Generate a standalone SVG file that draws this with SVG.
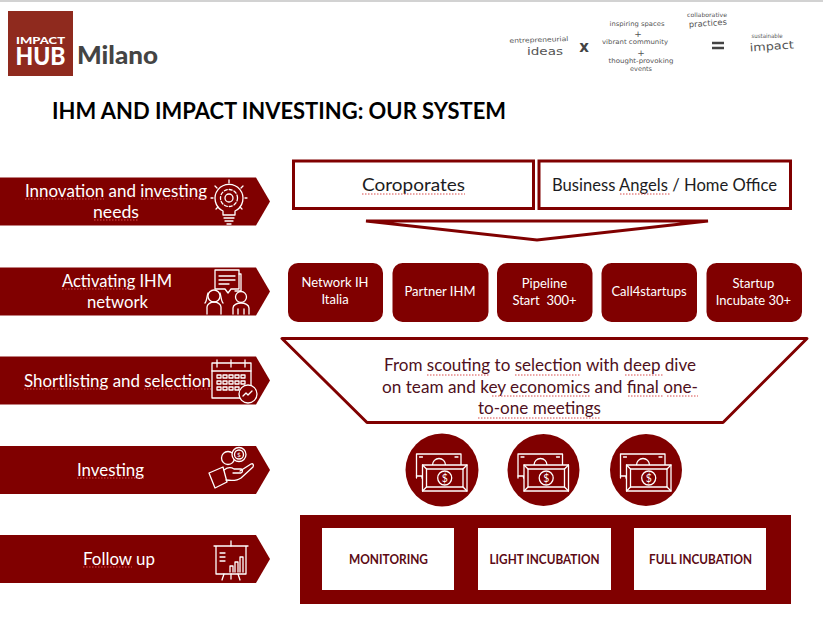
<svg xmlns="http://www.w3.org/2000/svg" width="823" height="620" viewBox="0 0 823 620">
<style>
text{font-family:Lato,"Liberation Sans",sans-serif;text-anchor:middle}
.red{fill:#800000}
.lab{fill:#fff;font-size:17px}
.nd{fill:#fff;font-size:13px}
.blk{fill:#1c1c22;font-size:17px}
.fn{fill:#4f1020;font-size:17px}
.bold{fill:#5c0a14;font-size:13px;font-weight:700}
.hand{font-family:"DejaVu Sans",sans-serif;fill:#555}
.sq{stroke:#d84a4a;stroke-width:1;stroke-dasharray:1.5 1.5;fill:none}
.ic{fill:none;stroke:#fff;stroke-width:1.3;stroke-linejoin:round;stroke-linecap:round}
.cur{fill:#fff;stroke:none}
.ol{fill:#fff;stroke:#800000;stroke-width:3}
</style>
<defs>
<path id="banner" d="M0 0H256L270 24L256 48H0Z"/>
<g id="money">
<g class="ic" stroke="#f3dcdc">
<path d="M-25.500 5V-19H19V-8"/>
<path d="M-25.500 3H-20V5M-22.500 -16H-19.500M16 -16H13"/>
<path d="M-9.500 -8a6.500 6.500 0 0 1 13 0"/>
<rect x="-19.500" y="-8" width="44.500" height="26" fill="#800000"/>
<path d="M-15.500 -4H21V14H-15.500Z"/>
<path d="M-19.500 -8l4 4M25 -8l-4 4M-19.500 18l4-4M25 18l-4-4"/>
<circle cx="2.700" cy="5" r="7"/>
</g>
<text x="2.700" y="9" style="font-size:10.500px;fill:#fff">$</text>
</g>
</defs>
<rect width="823" height="620" fill="#fff"/>
<rect width="823" height="2" fill="#d2d2d2"/>

<g id="logo">
<rect x="8" y="11" width="65" height="65" fill="#8f2a1e"/>
<text x="40.500" y="44" fill="#fff" font-size="9.500" font-weight="900" textLength="49" lengthAdjust="spacingAndGlyphs">IMPACT</text>
<text x="40.500" y="65" fill="#fff" font-size="24" font-weight="900" textLength="50" lengthAdjust="spacingAndGlyphs">HUB</text>
<text x="117.500" y="64" fill="#444" font-size="24" font-weight="900" textLength="81" lengthAdjust="spacingAndGlyphs">Milano</text>
</g>

<g id="tagline">
<text class="hand" x="539" y="42" font-size="6.500" textLength="59" lengthAdjust="spacingAndGlyphs" transform="rotate(-2 539 42)">entrepreneurial</text>
<text class="hand" x="545" y="55" font-size="11" textLength="36" lengthAdjust="spacingAndGlyphs">ideas</text>
<text class="hand" x="584" y="52" font-size="15" font-weight="700" style="fill:#444">x</text>
<text class="hand" x="637" y="26" font-size="6.500" textLength="55" lengthAdjust="spacingAndGlyphs">inspiring spaces</text>
<text class="hand" x="638" y="37" font-size="9">+</text>
<text class="hand" x="635" y="44" font-size="6.500" textLength="66" lengthAdjust="spacingAndGlyphs">vibrant community</text>
<text class="hand" x="641" y="56" font-size="9">+</text>
<text class="hand" x="641" y="63" font-size="6.500" textLength="65" lengthAdjust="spacingAndGlyphs">thought-provoking</text>
<text class="hand" x="641" y="71" font-size="6.500" textLength="22" lengthAdjust="spacingAndGlyphs">events</text>
<text class="hand" x="707" y="17" font-size="6" textLength="40" lengthAdjust="spacingAndGlyphs">collaborative</text>
<text class="hand" x="708" y="26" font-size="8" textLength="38" lengthAdjust="spacingAndGlyphs" transform="rotate(-4 708 26)">practices</text>
<path d="M712 43H724M712 48H724" stroke="#444" stroke-width="2.500" fill="none"/>
<text class="hand" x="767" y="38" font-size="6" textLength="31" lengthAdjust="spacingAndGlyphs">sustainable</text>
<text class="hand" x="772" y="50" font-size="11" textLength="44" lengthAdjust="spacingAndGlyphs" transform="rotate(-4 772 50)">impact</text>
</g>

<text id="title" x="279" y="119" fill="#000" font-size="22.500" font-weight="700" textLength="454" lengthAdjust="spacingAndGlyphs">IHM AND IMPACT INVESTING: OUR SYSTEM</text>

<g id="step-innovation">
<use href="#banner" class="red" y="177.500"/>
<text class="lab" x="116" y="197" textLength="182" lengthAdjust="spacingAndGlyphs">Innovation and investing</text>
<text class="lab" x="116" y="218" textLength="46" lengthAdjust="spacingAndGlyphs">needs</text>
<path class="sq" d="M25 199H104M141 199H207M94 220H139"/>
<g class="ic">
<path d="M223 211a14 14 0 1 1 12 0v4h-12Z"/><path d="M224 218h10M225 221h8M227 224h4"/>
<circle cx="229" cy="198" r="4"/><circle cx="229" cy="198" r="8.500" stroke-dasharray="3 2"/>
<path d="M229 180v3M215 186l2 2M243 186l-2 2M211 198h2M245 198h2M216 209l2-2M242 209l-2-2"/>
</g>
</g>

<g id="step-activating">
<use href="#banner" class="red" y="267.500"/>
<text class="lab" x="117" y="287" textLength="110" lengthAdjust="spacingAndGlyphs">Activating IHM</text>
<text class="lab" x="117.500" y="308" textLength="61" lengthAdjust="spacingAndGlyphs">network</text>
<path class="sq" d="M62 289H137"/>
<g class="ic">
<path d="M215 270h24v19h-8l-3 4-3-4h-10Z"/><path d="M219 276h16M219 280h16M219 284h10"/><path d="M239 274h2v17h-6"/>
<circle cx="214" cy="296" r="6"/><path d="M207 314v-7c0-3 4-5 7-5s7 2 7 5v7M205 303c2-2 2-8 3-10M223 303c-2-2-2-8-3-10"/>
<circle cx="241" cy="297" r="5.500"/><path d="M233 314v-6c0-3 4-5 8-5s8 2 8 5v6M238 314v-5M244 314v-5"/>
</g>
</g>

<g id="step-shortlisting">
<use href="#banner" class="red" y="356.500"/>
<text class="lab" x="117.500" y="387" textLength="187" lengthAdjust="spacingAndGlyphs">Shortlisting and selection</text>
<path class="sq" d="M24 389H108M144 389H211"/>
<g class="ic">
<rect x="212" y="363" width="39" height="35"/><path d="M212 371h39"/>
<path d="M217 360v7M231 360v7M245 360v7"/>
<path d="M217 375h4v3h-4ZM223 375h4v3h-4ZM229 375h4v3h-4ZM235 375h4v3h-4ZM241 375h4v3h-4ZM217 381h4v3h-4ZM223 381h4v3h-4ZM229 381h4v3h-4ZM235 381h4v3h-4ZM241 381h4v3h-4ZM217 387h4v3h-4ZM223 387h4v3h-4ZM229 387h4v3h-4ZM235 387h4v3h-4Z"/>
<circle cx="248" cy="394" r="9" fill="#800000"/><path d="M243 396l3-3 2 2 4-4"/>
</g>
</g>

<g id="step-investing">
<use href="#banner" class="red" y="446"/>
<text class="lab" x="110.500" y="476" textLength="67" lengthAdjust="spacingAndGlyphs">Investing</text>
<path class="sq" d="M77 478H144"/>
<g class="ic">
<circle cx="228" cy="458" r="6.500"/><circle cx="239" cy="454.500" r="7" fill="#800000"/><circle cx="239" cy="454.500" r="4.500"/>
<path d="M209 473l14-6 4 15-12 6Z"/>
<path d="M224 470c4-3 7-3 10-1h7c2 0 2 3 0 4h-8M240 471l11-7c2-1 3 1 2 3l-12 11c-4 3-8 3-15 2"/>
</g>
<text x="239" y="457" style="font-size:6.500px;fill:#fff">$</text>
</g>

<g id="step-follow">
<use href="#banner" class="red" y="535"/>
<text class="lab" x="119" y="565" textLength="72" lengthAdjust="spacingAndGlyphs">Follow up</text>
<path class="sq" d="M83 567H132"/>
<g class="ic">
<path d="M214 546h34M216 546v28h30v-28"/><path d="M231 541v5M224 574l-2 6M238 574l2 6M231 574v5"/>
<path d="M220 553h5M220 557h5M220 561h5M230 572v-6h3v6M235 572v-10h3v10M240 572v-15h3v15"/>
</g>
</g>

<g id="coroporates">
<rect class="ol" x="293.500" y="161" width="240" height="47.500"/>
<text x="413.500" y="191" style="fill:#1c1c22;font-size:18px" textLength="103" lengthAdjust="spacingAndGlyphs">Coroporates</text>
<path class="sq" d="M362 194H465"/>
</g>
<g id="business-angels">
<rect class="ol" x="539" y="161" width="251.500" height="47.500"/>
<text class="blk" x="664.500" y="191" textLength="225" lengthAdjust="spacingAndGlyphs">Business Angels / Home Office</text>
<path class="sq" d="M620 194H670"/>
</g>

<g id="connectors">
<path d="M366 221H708L537 240Z" fill="#fff" stroke="#800000" stroke-width="3"/>
</g>

<g id="network-ih">
<rect class="red" x="288" y="263" width="95" height="59" rx="10"/>
<text class="nd" x="335" y="287">Network IH</text><text class="nd" x="335" y="304">Italia</text>
</g>
<g id="partner-ihm">
<rect class="red" x="392.500" y="263" width="96" height="59" rx="10"/>
<text class="nd" x="440" y="296">Partner IHM</text>
</g>
<g id="pipeline">
<rect class="red" x="497" y="263" width="95.500" height="59" rx="10"/>
<text class="nd" x="544.500" y="288">Pipeline</text><text class="nd" x="544.500" y="305" xml:space="preserve">Start  300+</text>
</g>
<g id="call4startups">
<rect class="red" x="601.500" y="263" width="95.500" height="59" rx="10"/>
<text class="nd" x="649" y="296">Call4startups</text>
</g>
<g id="startup-incubate">
<rect class="red" x="706.500" y="263" width="95.500" height="59" rx="10"/>
<text class="nd" x="753.500" y="288">Startup</text><text class="nd" x="753.500" y="305">Incubate 30+</text>
</g>

<g id="funnel">
<path d="M282 338.500H807L723 422.500H367Z" fill="#fff" stroke="#800000" stroke-width="3" stroke-linejoin="round"/>
<text class="fn" x="540" y="371" textLength="312" lengthAdjust="spacingAndGlyphs">From scouting to selection with deep dive</text>
<text class="fn" x="540" y="393" textLength="316" lengthAdjust="spacingAndGlyphs">on team and key economics and final one-</text>
<text class="fn" x="539.500" y="414" textLength="123" lengthAdjust="spacingAndGlyphs">to-one meetings</text>
<path class="sq" d="M427 375H490M515 375H581M625 375H664M492 396H591M628 396H664M667 396H698M478 418H601"/>
</g>

<g id="invest-1"><circle class="red" cx="442" cy="470" r="36.500"/><use href="#money" x="442" y="473"/></g>
<g id="invest-2"><circle class="red" cx="543.500" cy="470" r="36"/><use href="#money" x="543.500" y="473"/></g>
<g id="invest-3"><circle class="red" cx="646" cy="470" r="36"/><use href="#money" x="646" y="473"/></g>

<g id="follow-up-panel">
<rect class="red" x="300" y="515" width="491" height="89"/>
</g>
<g id="monitoring">
<rect x="322" y="528" width="132" height="62" fill="#fff"/>
<text class="bold" x="388.500" y="564" textLength="79" lengthAdjust="spacingAndGlyphs">MONITORING</text>
</g>
<g id="light-incubation">
<rect x="478" y="528" width="133" height="62" fill="#fff"/>
<text class="bold" x="544.500" y="564" textLength="110" lengthAdjust="spacingAndGlyphs">LIGHT INCUBATION</text>
</g>
<g id="full-incubation">
<rect x="634" y="528" width="132" height="62" fill="#fff"/>
<text class="bold" x="700.500" y="564" textLength="103" lengthAdjust="spacingAndGlyphs">FULL INCUBATION</text>
</g>
</svg>
